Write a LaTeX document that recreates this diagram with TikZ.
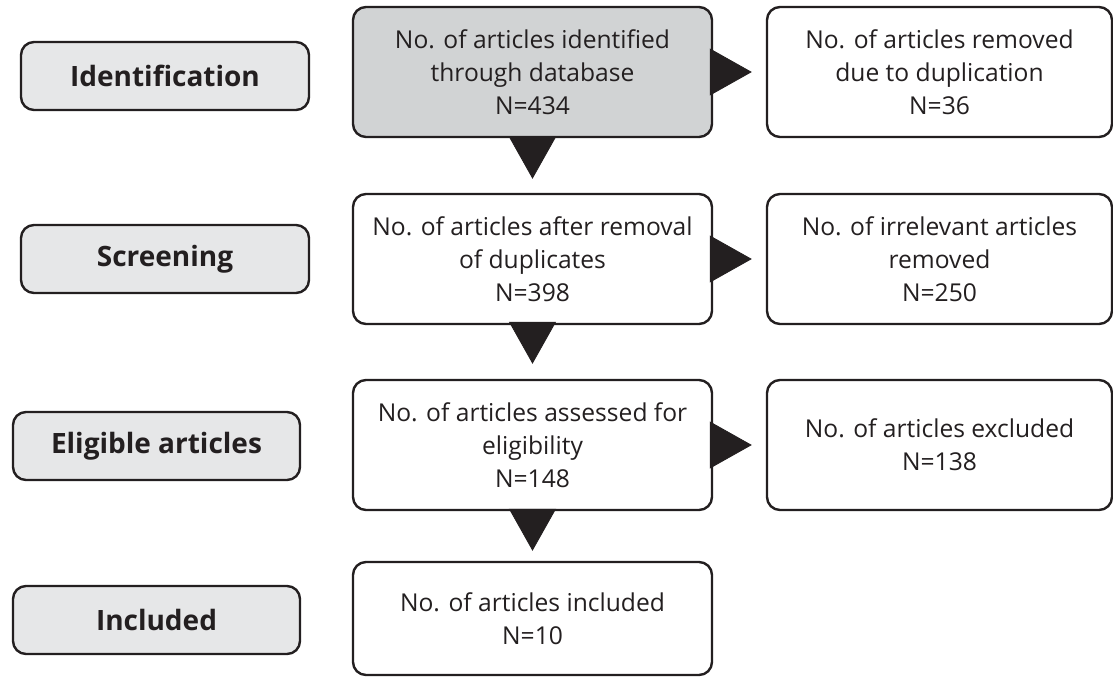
\documentclass[tikz,border=0pt]{standalone}
\usepackage{fontspec}
\setmainfont{Open Sans}
\usepackage{tikz}
\usetikzlibrary{arrows.meta,positioning}
\definecolor{encre}{RGB}{35,31,32}
\definecolor{grisclair}{RGB}{230,231,232}
\definecolor{grismoyen}{RGB}{209,211,212}
\tikzset{
  boite/.style={draw=encre,line width=1.2pt,rounded corners=6.5pt,fill=white,text=encre,
    align=center,inner sep=0pt,font=\fontsize{12.3}{16.5}\selectfont},
  centre/.style={boite,minimum width=179.5pt,minimum height=65pt},
  retrait/.style={boite,minimum width=172.5pt,minimum height=65pt},
  phase/.style={boite,fill=grisclair,minimum width=144pt,minimum height=34pt,
    font=\fontsize{14}{16}\selectfont\bfseries},
  fleche/.style={encre,line width=0.4pt,shorten >=7pt,
    -{Triangle[width=23.5pt 0,length=21pt 0]}}
}
\begin{document}
\begin{tikzpicture}[x=0.5pt,y=-0.5pt]
\useasboundingbox (0,0) rectangle (1113,676);
\node[phase] (ident) at (165,76) {Identification};
\node[phase] (tri) at (165,259) {Screening};
\node[phase,minimum width=143.5pt] (elig) at (156.5,446) {Eligible articles};
\node[phase,minimum width=143.5pt] (incl) at (156.5,620) {Included};
\node[centre,fill=grismoyen] (base) at (532.5,72) {No. of articles identified\\through database\\N=434};
\node[centre] (doublons) at (532.5,259) {No. of articles after removal\\of duplicates\\N=398};
\node[centre] (evalues) at (532.5,445) {No. of articles assessed for\\eligibility\\N=148};
\node[centre,minimum height=56.5pt] (inclus) at (532.5,618.5) {No. of articles included\\N=10};
\node[retrait] (dupl) at (939.5,72) {No. of articles removed\\due to duplication\\N=36};
\node[retrait] (hors) at (939.5,259) {No. of irrelevant articles\\removed\\N=250};
\node[retrait] (exclus) at (939.5,445) {No. of articles excluded\\N=138};
\draw[fleche] (base) -- (doublons);
\draw[fleche,shorten >=7.5pt] (doublons) -- (evalues);
\draw[fleche,shorten >=5pt] (evalues) -- (inclus);
\draw[fleche] (base) -- (dupl);
\draw[fleche] (doublons) -- (hors);
\draw[fleche] (evalues) -- (exclus);
\end{tikzpicture}
\end{document}
